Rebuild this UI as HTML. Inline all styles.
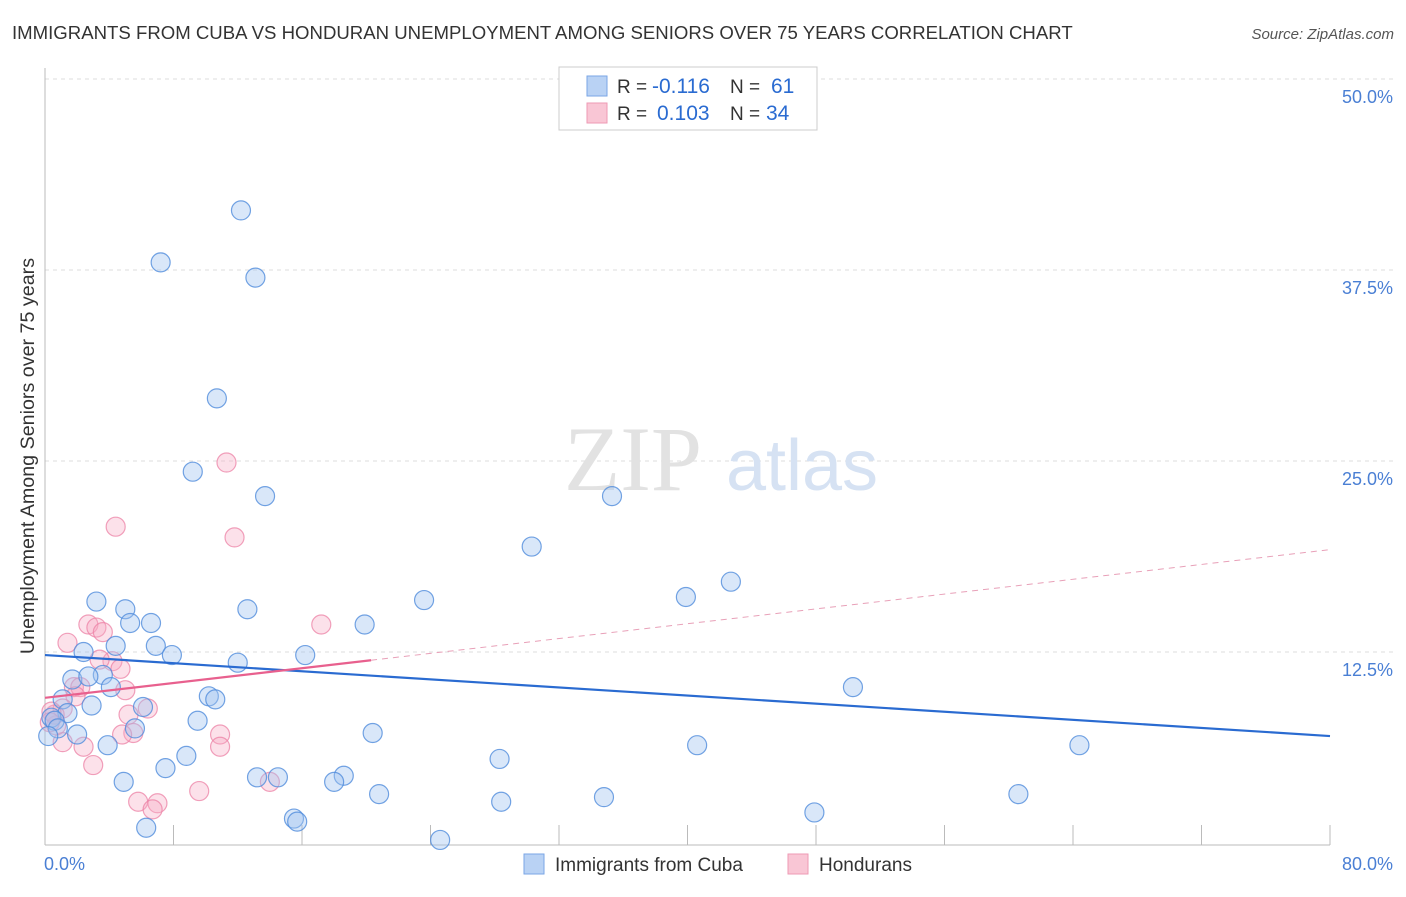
<!DOCTYPE html>
<html><head><meta charset="utf-8"><style>
body{margin:0;background:#fff;font-family:"Liberation Sans",sans-serif;}
</style></head><body>
<svg width="1406" height="892" viewBox="0 0 1406 892" font-family="Liberation Sans, sans-serif">
<text x="12" y="39" font-size="18.6" fill="#333">IMMIGRANTS FROM CUBA VS HONDURAN UNEMPLOYMENT AMONG SENIORS OVER 75 YEARS CORRELATION CHART</text>
<text x="1394" y="39" font-size="15" fill="#555" font-style="italic" text-anchor="end">Source: ZipAtlas.com</text>
<g id="grid"></g>
<g><text x="633" y="490" font-size="92" fill="#e2e2e2" font-family="Liberation Serif, serif" text-anchor="middle">ZIP</text><text x="802" y="490" font-size="72" fill="#d6e2f3" text-anchor="middle">atlas</text></g>
<line x1="45" y1="68" x2="45" y2="845" stroke="#bbb"/>
<line x1="45" y1="845" x2="1330" y2="845" stroke="#bbb"/>
<g id="xticks"></g>
<text x="44" y="870" font-size="18" fill="#4a7fd4">0.0%</text>
<text x="1393" y="870" font-size="18" fill="#4a7fd4" text-anchor="end">80.0%</text>
<text transform="translate(34,456) rotate(-90)" font-size="19.7" fill="#333" text-anchor="middle">Unemployment Among Seniors over 75 years</text>
<g id="pts"></g>
<g id="lines"></g>
<g>
<rect x="559" y="67" width="258" height="63" fill="#fff" stroke="#ccc"/>
<rect x="587" y="76" width="20" height="20" fill="#b9d2f4" stroke="#7aa6e6"/>
<rect x="587" y="103" width="20" height="20" fill="#f9c6d5" stroke="#ee9ab4"/>
<text x="617" y="93" font-size="19" fill="#333">R = <tspan x="652" font-size="21" fill="#2a6bd1">-0.116</tspan><tspan x="730">N = </tspan><tspan x="771" font-size="21" fill="#2a6bd1">61</tspan></text>
<text x="617" y="120" font-size="19" fill="#333">R = <tspan x="657" font-size="21" fill="#2a6bd1">0.103</tspan><tspan x="730">N = </tspan><tspan x="766" font-size="21" fill="#2a6bd1">34</tspan></text>
</g>
<g>
<rect x="524" y="854" width="20" height="20" fill="#b9d2f4" stroke="#7aa6e6"/>
<text x="555" y="871" font-size="19" fill="#333">Immigrants from Cuba</text>
<rect x="788" y="854" width="20" height="20" fill="#f9c6d5" stroke="#ee9ab4"/>
<text x="819" y="871" font-size="19" fill="#333">Hondurans</text>
</g>
</svg>
<script>
const yTicks=[12.5,25,37.5,50];
const yTickLabels=["12.5%","25.0%","37.5%","50.0%"];
const cubaX=[12.2,7.2,13.1,10.7,9.2,13.7,35.3,30.3,42.7,39.9,23.6,3.2,5.0,12.6,6.6,5.3,19.9,4.4,6.9,7.9,2.4,16.2,12.0,50.3,3.6,1.7,2.7,4.1,1.1,10.2,10.6,2.9,6.1,1.4,9.5,5.6,2.0,20.4,0.4,0.6,0.8,3.9,8.8,40.6,64.4,28.3,7.5,13.2,14.5,18.6,18.0,4.9,20.8,60.6,34.8,28.4,47.9,15.5,15.7,6.3,24.6,0.2];
const cubaY=[41.4,38.0,37.0,29.1,24.3,22.7,22.7,19.4,17.1,16.1,15.9,15.8,15.3,15.3,14.4,14.4,14.3,12.9,12.9,12.3,12.5,12.3,11.8,10.2,11.0,10.7,10.9,10.2,9.4,9.6,9.4,9.0,8.9,8.5,8.0,7.5,7.1,7.2,8.2,8.0,7.5,6.4,5.7,6.4,6.4,5.5,4.9,4.3,4.3,4.4,4.0,4.0,3.2,3.2,3.0,2.7,2.0,1.6,1.4,1.0,0.2,7.0];
const hondX=[11.3,4.4,11.8,17.2,1.4,2.7,3.2,3.6,1.8,4.2,3.4,4.7,5.0,2.2,1.9,1.1,6.4,5.5,5.2,10.9,10.9,2.4,1.1,4.8,0.7,0.6,3.0,14.0,5.8,9.6,7.0,6.7,0.4,0.3];
const hondY=[24.9,20.7,20.0,14.3,13.1,14.3,14.1,13.8,10.2,11.9,12.0,11.4,10.0,10.2,9.6,8.8,8.8,7.2,8.4,7.1,6.3,6.3,6.6,7.1,7.7,8.4,5.1,4.0,2.7,3.4,2.6,2.2,8.6,7.9];
const blueTrend=[12.3,7.0];
const pinkTrend=[9.5,19.2];
const NS="http://www.w3.org/2000/svg";
const X=v=>45+v/80*1285, Y=v=>843-v*15.28;
function mk(t,a,p){const e=document.createElementNS(NS,t);for(const k in a)e.setAttribute(k,a[k]);p.appendChild(e);return e;}
const grid=document.getElementById('grid');
yTicks.forEach((t,i)=>{
 const l=mk('line',{x1:45,x2:1394,y1:Y(t),y2:Y(t),stroke:'#ddd','stroke-dasharray':'4,4'},grid);
 
 
 const tx=mk('text',{x:1393,y:Y(t)+24,'font-size':18,fill:'#4a7fd4','text-anchor':'end'},grid);
 tx.textContent=yTickLabels[i];
 
 
});
const xt=document.getElementById('xticks');
for(let v=8;v<=80;v+=8){
 const l=mk('line',{x1:X(v),x2:X(v),y1:825,y2:845,stroke:'#bbb'},xt);
 
 
}
const pts=document.getElementById('pts');
hondX.forEach((x,i)=>{
 const c=mk('circle',{cx:X(x),cy:Y(hondY[i]),r:9.5,fill:'rgba(246,170,195,0.35)',stroke:'rgba(236,130,165,0.75)','stroke-width':1.2},pts);
 
 
});
cubaX.forEach((x,i)=>{
 const c=mk('circle',{cx:X(x),cy:Y(cubaY[i]),r:9.5,fill:'rgba(160,195,240,0.4)',stroke:'rgba(80,140,220,0.8)','stroke-width':1.2},pts);
 
 
});
const lg=document.getElementById('lines');
const b=mk('line',{x1:X(0),y1:Y(blueTrend[0]),x2:X(80),y2:Y(blueTrend[1]),stroke:'#2a6bd1','stroke-width':2.2},lg);


const pv=x=>pinkTrend[0]+(pinkTrend[1]-pinkTrend[0])*x/80;
const p1=mk('line',{x1:X(0),y1:Y(pv(0)),x2:X(20.3),y2:Y(pv(20.3)),stroke:'#e8608e','stroke-width':2.2},lg);


const p2=mk('line',{x1:X(20.3),y1:Y(pv(20.3)),x2:X(80),y2:Y(pv(80)),stroke:'#e8a0b8','stroke-width':1,'stroke-dasharray':'6,5'},lg);


</script>
</body></html>
